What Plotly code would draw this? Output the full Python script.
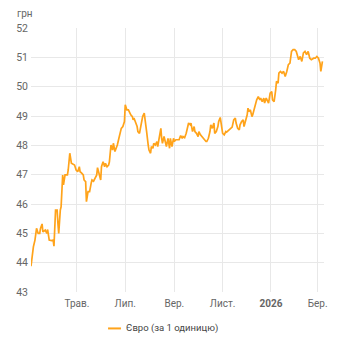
import pandas as pd
import plotly.graph_objects as go

start_date = "2025-03-04"
day_offsets = [0,2,3,5,7,9,11,12,14,15,18,20,21,23,26,28,29,31,33,34,35,37,38,40,41,43,46,47,49,51,53,55,57,59,61,62,64,66,67,69,70,72,73,74,76,77,79,81,83,84,86,88,89,91,93,94,96,98,99,101,103,104,106,108,109,111,113,114,116,118,119,121,123,124,126,128,129,130,132,134,135,137,139,141,143,144,146,148,149,151,152,154,155,157,159,160,162,164,165,166,168,170,171,173,175,176,178,180,181,183,185,187,189,191,192,194,196,197,199,201,202,204,206,207,209,211,212,214,216,217,219,221,222,224,226,227,229,231,232,234,236,237,239,241,242,244,246,247,249,252,254,256,258,259,261,263,264,266,268,269,271,273,274,275,277,279,280,282,284,285,287,289,290,292,294,295,297,299,300,302,304,305,307,309,310,312,313,315,317,319,321,323,325,327,329,331,333,335,338,340,342,344,346,348,350,352,354,357,359,361,363,365,366,368]
eur_rate = [43.88,44.49,44.54,44.77,45.17,45.00,45.00,45.17,45.32,45.05,45.11,45.00,45.13,44.77,44.75,44.77,44.56,45.79,45.79,45.34,45.00,45.79,45.90,46.99,46.65,46.99,46.99,47.16,47.73,47.39,47.37,47.33,47.16,47.10,47.27,47.10,47.05,46.99,46.82,46.76,46.08,46.42,46.42,46.42,46.71,46.82,46.78,46.88,46.99,47.24,46.99,46.82,47.27,47.44,47.27,47.39,47.27,47.33,47.44,48.01,47.84,48.07,47.79,47.90,48.01,48.24,48.41,48.58,48.64,48.81,49.38,49.21,49.21,49.15,49.04,48.98,48.87,48.93,48.81,48.64,48.47,48.41,48.70,48.98,49.10,48.93,48.47,48.01,47.84,47.73,47.96,47.90,48.07,48.01,48.13,47.96,48.30,48.58,48.24,48.07,48.30,48.01,47.96,48.24,47.90,48.24,47.96,48.24,48.13,48.19,48.18,48.19,48.33,48.24,48.30,48.26,48.41,48.58,48.76,48.70,48.76,48.47,48.64,48.47,48.41,48.30,48.47,48.36,48.30,48.24,48.19,48.13,48.13,48.24,48.47,48.70,48.58,48.76,48.41,48.47,48.64,48.81,48.95,48.64,48.41,48.36,48.47,48.45,48.50,48.55,48.62,48.87,48.93,48.76,48.58,48.53,48.70,48.81,48.87,48.64,48.81,49.04,49.27,49.15,49.21,48.98,49.04,49.27,49.44,49.55,49.66,49.55,49.61,49.49,49.61,49.44,49.61,49.49,49.44,49.78,49.83,49.55,49.49,49.89,50.18,50.12,50.46,50.52,50.46,50.52,50.35,50.52,50.75,50.80,51.20,51.26,51.26,51.20,50.92,51.03,50.86,51.15,51.20,51.09,51.20,50.97,50.92,50.97,50.97,51.03,50.97,50.80,50.52,50.86]

series_name = "Євро (за 1 одиницю)"
unit_label = "грн"
tick_dates = ["2025-05-01", "2025-07-01", "2025-09-01", "2025-11-01", "2026-01-01", "2026-03-01"]
tick_labels = ["Трав.", "Лип.", "Вер.", "Лист.", "<b>2026</b>", "Бер."]
y_ticks = [43, 44, 45, 46, 47, 48, 49, 50, 51, 52]

LINE_COLOR = "#FFA31A"
dates = pd.to_datetime(start_date) + pd.to_timedelta(day_offsets, unit="D")

fig = go.Figure()
fig.add_trace(go.Scatter(
    x=dates, y=eur_rate, mode="lines",
    name=series_name, showlegend=False,
    line=dict(color=LINE_COLOR, width=1.7),
))

fig.update_layout(
    width=342, height=350,
    margin=dict(l=31, r=18, t=28, b=58, autoexpand=False),
    paper_bgcolor="white", plot_bgcolor="white",
    font=dict(family="Roboto", size=10, color="#666666"),
    xaxis=dict(
        range=[pd.Timestamp("2025-03-04"), pd.Timestamp("2026-03-09")],
        tickvals=tick_dates, ticktext=tick_labels,
        showgrid=True, gridcolor="#e8e8e8", gridwidth=1,
        showline=False, zeroline=False, ticks="",
        tickfont=dict(size=10, color="#666666"),
        ticklabelstandoff=4,
    ),
    yaxis=dict(
        range=[43, 52], tickvals=y_ticks,
        showgrid=True, gridcolor="#e8e8e8", gridwidth=1,
        showline=False, zeroline=False, ticks="",
        tickfont=dict(size=10.5, color="#666666"),
        ticklabelstandoff=2,
    ),
    shapes=[dict(
        type="line", xref="paper", yref="paper",
        x0=0.263, x1=0.307, y0=-0.138, y1=-0.138,
        line=dict(color=LINE_COLOR, width=2),
    )],
    annotations=[
        dict(text=unit_label, xref="paper", yref="paper", x=-0.055, y=1.054,
             xanchor="left", yanchor="middle", showarrow=False,
             font=dict(size=10, color="#666666")),
        dict(text=series_name, xref="paper", yref="paper", x=0.318, y=-0.138,
             xanchor="left", yanchor="middle", showarrow=False,
             font=dict(size=9.5, color="#444444")),
    ],
)

fig.write_html("out.html")
